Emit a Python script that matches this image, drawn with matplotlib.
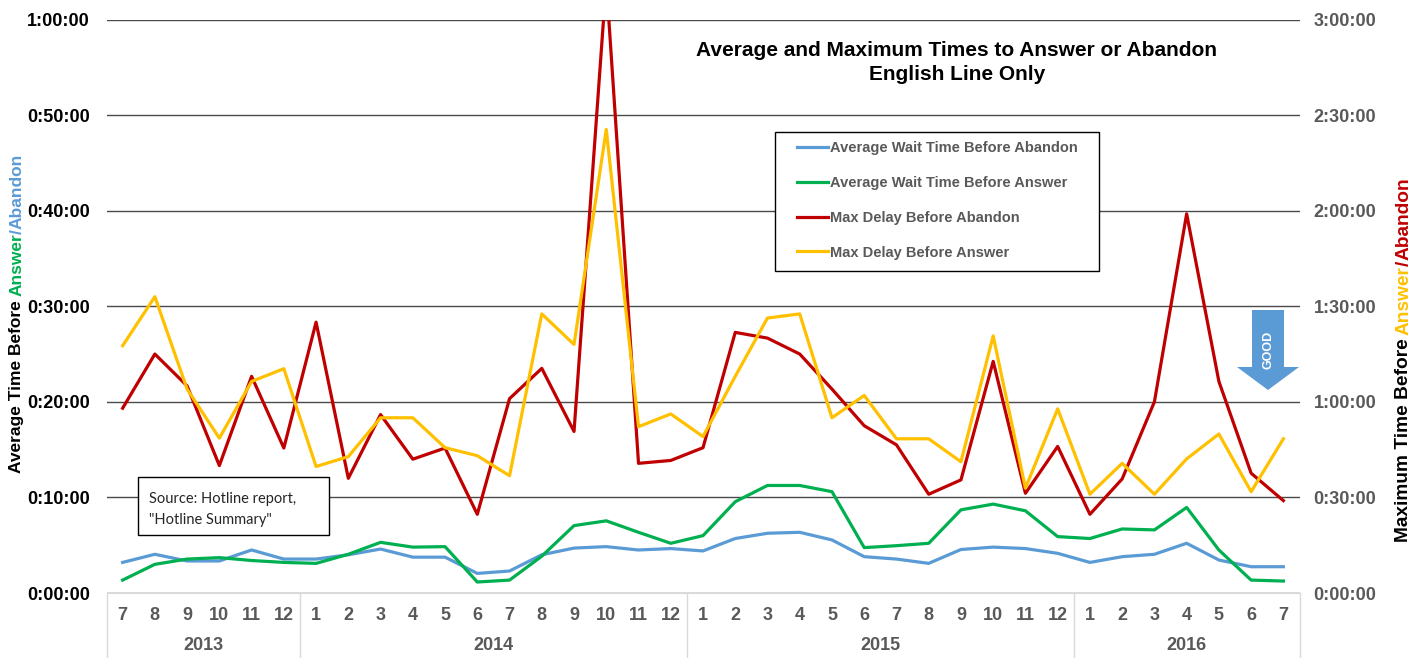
import matplotlib
matplotlib.use("Agg")
import matplotlib.pyplot as plt
from matplotlib.patches import Rectangle, Polygon
from matplotlib.ticker import FuncFormatter, MultipleLocator

plt.rcParams['font.family'] = ['Liberation Sans', 'DejaVu Sans']

# ---- data (minutes) ----
months = [7, 8, 9, 10, 11, 12,
          1, 2, 3, 4, 5, 6, 7, 8, 9, 10, 11, 12,
          1, 2, 3, 4, 5, 6, 7, 8, 9, 10, 11, 12,
          1, 2, 3, 4, 5, 6, 7]
years = ['2013', '2014', '2015', '2016']
year_counts = [6, 12, 12, 7]

avg_abandon = [3.2, 4.05, 3.35, 3.35, 4.5, 3.55, 3.55, 4.0, 4.6, 3.75, 3.75, 2.05,
               2.3, 4.0, 4.7, 4.85, 4.5, 4.65, 4.4, 5.7, 6.25, 6.35, 5.55, 3.8,
               3.55, 3.1, 4.55, 4.8, 4.65, 4.15, 3.2, 3.8, 4.05, 5.2, 3.45, 2.75, 2.75]
avg_answer = [1.35, 3.0, 3.55, 3.7, 3.4, 3.2, 3.1, 4.05, 5.3, 4.8, 4.85, 1.15,
              1.35, 3.85, 7.05, 7.55, 6.35, 5.2, 6.0, 9.55, 11.25, 11.25, 10.6, 4.75,
              4.95, 5.2, 8.7, 9.3, 8.6, 5.9, 5.7, 6.7, 6.6, 8.95, 4.5, 1.35, 1.25]
max_abandon = [58, 75, 65, 40, 68, 45.5, 85, 36, 56, 42, 45.5, 24.7,
               61, 70.5, 50.7, 192, 40.7, 41.6, 45.6, 81.8, 80, 75, 64, 52.5,
               46.5, 31, 35.5, 72.7, 31.3, 46, 24.7, 35.8, 60, 119, 66.4, 37.6, 29]
max_answer = [77.6, 93, 64, 48.6, 66.4, 70.4, 39.7, 42.8, 55, 55, 45.6, 43.1,
              36.8, 87.6, 78, 145.5, 52.2, 56.2, 49.1, 68, 86.3, 87.6, 55, 62,
              48.4, 48.4, 41.2, 80.7, 32.9, 57.8, 31, 40.7, 31, 42.1, 49.9, 31.8, 48.4]

BLUE, GREEN, RED, YELLOW = '#5b9bd5', '#00b050', '#c00000', '#ffc000'
GRAY = '#595959'
W, H = 1424, 658


def hms(v, pos=None):
    v = int(round(v))
    return "%d:%02d:%02d" % (v // 3600, v % 3600 // 60, v % 60)


fig = plt.figure(figsize=(W / 100, H / 100), dpi=100)
ax = fig.add_axes([106.5 / W, 1 - 593 / H, 1193 / W, 573.5 / H])
ax2 = ax.twinx()

x = list(range(len(months)))
l1, = ax.plot(x, [m * 60 for m in avg_abandon], color=BLUE, lw=2.3, zorder=3)
l2, = ax.plot(x, [m * 60 for m in avg_answer], color=GREEN, lw=2.3, zorder=4)
l3, = ax2.plot(x, [m * 60 for m in max_abandon], color=RED, lw=2.3)
l4, = ax2.plot(x, [m * 60 for m in max_answer], color=YELLOW, lw=2.3)

ax.set_xlim(-0.5, len(months) - 0.5)
ax.set_ylim(0, 3600)
ax2.set_ylim(0, 10800)
ax.yaxis.set_major_locator(MultipleLocator(600))
ax2.yaxis.set_major_locator(MultipleLocator(1800))
ax.yaxis.set_major_formatter(FuncFormatter(hms))
ax2.yaxis.set_major_formatter(FuncFormatter(hms))
ax.grid(axis='y', color='#4a4a4a', lw=1)
ax.set_axisbelow(True)

for a in (ax, ax2):
    for s in a.spines.values():
        s.set_visible(False)
ax.spines['bottom'].set_visible(True)
ax.spines['bottom'].set_color('#d9d9d9')

ax.tick_params(axis='y', length=0, pad=12, labelsize=13, labelcolor='black')
ax2.tick_params(axis='y', length=0, pad=10, labelsize=13, labelcolor=GRAY)
for t in ax.get_yticklabels() + ax2.get_yticklabels():
    t.set_fontweight('bold')

ax.set_xticks(x)
ax.set_xticklabels([str(m) for m in months], fontweight='bold', color=GRAY, fontsize=13)
ax.tick_params(axis='x', length=0, pad=10)

# year labels and separators
xt = ax.get_xaxis_transform()
pix = 1 / 573.5
start = -0.5
ax.vlines(start, -65 * pix, 0, transform=xt, color='#d9d9d9', lw=1, clip_on=False)
for yr, n in zip(years, year_counts):
    ax.text(start + n / 2, -53 * pix, yr, transform=xt, ha='center', va='center',
            fontsize=13, fontweight='bold', color=GRAY)
    start += n
    ax.vlines(start, -65 * pix, 0, transform=xt, color='#d9d9d9', lw=1, clip_on=False)


# multicolour rotated axis labels
def multicolor_vlabel(xc, yc, parts, **kw):
    r = fig.canvas.get_renderer()

    def width(s):
        t = fig.text(0, 0, s, **kw)
        w = t.get_window_extent(r).width
        t.remove()
        return w
    sp = width("A A") - width("AA")
    widths = [width(s.strip()) + (sp if s.endswith(" ") else 0) for s, c in parts]
    y = (H - yc) - sum(widths) / 2
    for (s, c), w in zip(parts, widths):
        fig.text(xc / W, y / H, s.strip(), color=c, rotation=90, ha='center', va='bottom', **kw)
        y += w


multicolor_vlabel(17, 313, [("Average Time Before ", 'black'), ("Answer", GREEN),
                            ("/", BLUE), ("Abandon", BLUE)], fontsize=12.5, fontweight='bold')
multicolor_vlabel(1404, 360, [("Maximum Time Before ", 'black'), ("Answer", YELLOW),
                              ("/", RED), ("Abandon", RED)], fontsize=13.8, fontweight='bold')

# title
fig.text(957 / W, 1 - 50 / H, "Average and Maximum Times to Answer or Abandon",
         ha='center', va='center', fontsize=15, fontweight='bold')
fig.text(957 / W, 1 - 74 / H, "English Line Only",
         ha='center', va='center', fontsize=15, fontweight='bold')

# legend
fig.patches.append(Rectangle((775 / W, 1 - 271 / H), 324 / W, 139 / H, transform=fig.transFigure,
                             facecolor='white', edgecolor='black', lw=1, zorder=1))
fig.legend([l1, l2, l3, l4],
           ["Average Wait Time Before Abandon", "Average Wait Time Before Answer",
            "Max Delay Before Abandon", "Max Delay Before Answer"],
           loc='upper left', bbox_to_anchor=(797 / W, 1 - 141 / H), frameon=False,
           prop=dict(size=10.5, weight='bold'), labelcolor=GRAY,
           handlelength=2.1, handletextpad=0.15, labelspacing=1.43,
           borderpad=0, borderaxespad=0)

# source note
fig.patches.append(Rectangle((138 / W, 1 - 535 / H), 191 / W, 58 / H, transform=fig.transFigure,
                             facecolor='white', edgecolor='black', lw=1, zorder=1))
fig.text(149 / W, 1 - 499 / H, "Source: Hotline report,", va='center', fontsize=10.5,
         family=['Lato', 'DejaVu Sans'], color='#262626')
fig.text(149 / W, 1 - 520 / H, "\"Hotline Summary\"", va='center', fontsize=10.5,
         family=['Lato', 'DejaVu Sans'], color='#262626')

# GOOD arrow
arrow_px = [(1252, 310), (1284, 310), (1284, 367), (1299, 367), (1268, 390),
            (1237, 367), (1252, 367)]
fig.patches.append(Polygon([(a / W, 1 - b / H) for a, b in arrow_px], closed=True,
                           transform=fig.transFigure, facecolor=BLUE, edgecolor='none', zorder=2))
fig.text(1268 / W, 1 - 350 / H, "GOOD", rotation=90, ha='center', va='center',
         color='white', fontsize=9, fontweight='bold', zorder=3)

fig.savefig("out.png", dpi=100)
